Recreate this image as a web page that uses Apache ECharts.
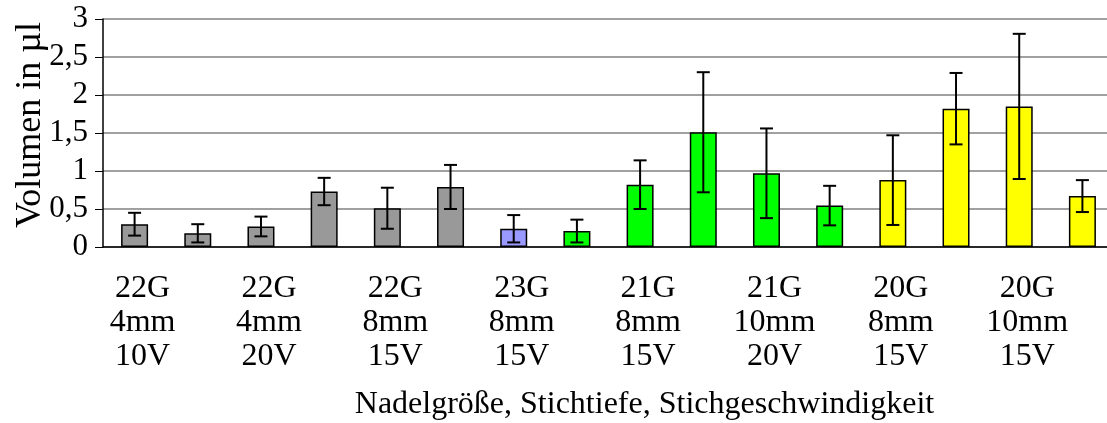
<!DOCTYPE html>
<html lang="de">
<head>
  <meta charset="UTF-8">
  <title>Volumen</title>
  <script src="https://cdn.jsdelivr.net/npm/echarts@6/dist/echarts.min.js"></script>
  <style>
    html, body { margin: 0; padding: 0; background: #fff; }
  </style>
</head>
<body>
  <div id="app" style="width: 1107px; height: 423px;"></div>
  <script>
    // Gruppen-Beschriftungen (je zwei Balken pro Beschriftung)
    var tickLabels = ['22G\n4mm\n10V', '22G\n4mm\n20V', '22G\n8mm\n15V', '23G\n8mm\n15V',
                      '21G\n8mm\n15V', '21G\n10mm\n20V', '20G\n8mm\n15V', '20G\n10mm\n15V']
    // Mittelwerte und Standardabweichung in µl
    var values = [0.30, 0.18, 0.27, 0.73, 0.51, 0.79, 0.24, 0.21,
                  0.82, 1.51, 0.97, 0.545, 0.88, 1.82, 1.85, 0.67]
    var errors = [0.15, 0.12, 0.13, 0.18, 0.27, 0.29, 0.18, 0.15,
                  0.32, 0.79, 0.59, 0.26, 0.59, 0.47, 0.955, 0.21]
    var yTicks = [0, 0.5, 1, 1.5, 2, 2.5, 3]

    // Farben je Balken
    var barColors = ['#999999', '#999999', '#999999', '#999999', '#999999', '#999999',
                     '#9999ff',
                     '#00ff00', '#00ff00', '#00ff00', '#00ff00', '#00ff00',
                     '#ffff00', '#ffff00', '#ffff00', '#ffff00']

    var categories = []
    tickLabels.forEach(function (t) { categories.push(t, '') })

    var font = "'Liberation Serif', 'Times New Roman', serif"

    var mCharts = echarts.init(document.querySelector('#app'))
    var option = {
      animation: false,
      grid: { left: 103, top: 19, width: 1011, height: 228, outerBoundsMode: 'none', containLabel: false },
      xAxis: {
        type: 'category',
        data: categories,
        name: 'Nadelgröße, Stichtiefe, Stichgeschwindigkeit',
        nameLocation: 'middle',
        nameGap: 142,
        nameMoveOverlap: false,
        nameTextStyle: { fontFamily: font, fontSize: 32, color: '#000', padding: [0, 0, 0, 72] },
        axisLine: { lineStyle: { color: '#000', width: 1.5 } },
        axisTick: { interval: 0, length: 6, lineStyle: { color: '#000' } },
        axisLabel: {
          interval: 0, margin: 25, fontFamily: font, fontSize: 32, lineHeight: 34,
          color: '#000', padding: [0, 0, 0, 16]
        }
      },
      yAxis: {
        type: 'value',
        min: 0, max: 3, interval: 0.5,
        name: 'Volumen in µl',
        nameLocation: 'middle',
        nameGap: 54,
        nameRotate: 90,
        nameMoveOverlap: false,
        nameTextStyle: { fontFamily: font, fontSize: 36, color: '#000', padding: [0, 0, 0, 16] },
        axisLine: { show: true, lineStyle: { color: '#000', width: 1.5 } },
        axisTick: { show: true, length: 8, lineStyle: { color: '#000' } },
        axisLabel: {
          margin: 15, fontFamily: font, fontSize: 31, color: '#000', padding: [12, 0, 0, 0],
          formatter: function (v) {
            return yTicks.indexOf(v) >= 0 ? String(v).replace('.', ',') : ''
          }
        },
        splitLine: { lineStyle: { color: '#808080', width: 1.5 } }
      },
      series: [
        {
          type: 'bar',
          barWidth: 27,
          data: values.map(function (v, i) {
            return { value: v, itemStyle: { color: barColors[i] } }
          }),
          itemStyle: { borderColor: '#000', borderWidth: 1.5 }
        },
        {
          type: 'custom',
          data: values.map(function (v, i) { return [i, v, errors[i]] }),
          z: 10,
          renderItem: function (params, api) {
            var i = api.value(0)
            var hi = api.coord([i, api.value(1) + api.value(2)])
            var lo = api.coord([i, api.value(1) - api.value(2)])
            var w = 6.5
            var st = { stroke: '#000', lineWidth: 2 }
            return {
              type: 'group',
              children: [
                { type: 'line', shape: { x1: hi[0], y1: hi[1], x2: lo[0], y2: lo[1] }, style: st },
                { type: 'line', shape: { x1: hi[0] - w, y1: hi[1], x2: hi[0] + w, y2: hi[1] }, style: st },
                { type: 'line', shape: { x1: lo[0] - w, y1: lo[1], x2: lo[0] + w, y2: lo[1] }, style: st }
              ]
            }
          }
        }
      ]
    }
    mCharts.setOption(option)
  </script>
</body>
</html>
